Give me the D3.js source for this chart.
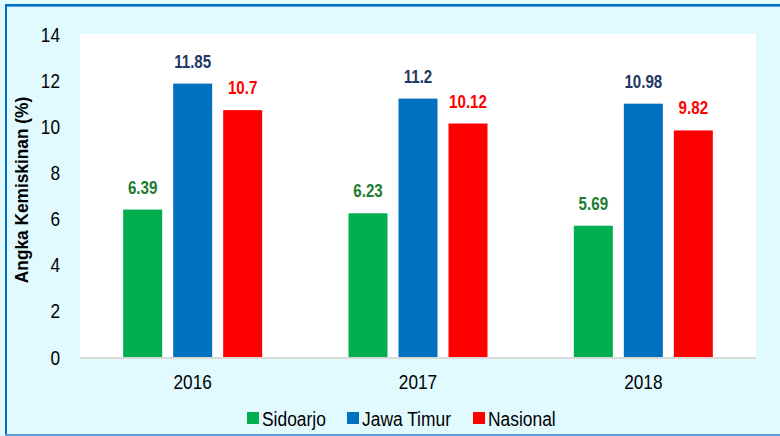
<!DOCTYPE html>
<html><head><meta charset="utf-8">
<script src="https://cdn.jsdelivr.net/npm/d3@7"></script>
<style>body{margin:0;background:#fff}svg{display:block}</style>
</head><body>
<svg id="c" width="780" height="436"></svg>
<script>
const years = ["2016","2017","2018"];
const seriesNames = ["Sidoarjo","Jawa Timur","Nasional"];
const sidoarjo = [6.39, 6.23, 5.69];
const jawaTimur = [11.85, 11.2, 10.98];
const nasional = [10.7, 10.12, 9.82];
const yTicks = [0,2,4,6,8,10,12,14];
const labelText = [["6.39","6.23","5.69"],["11.85","11.2","10.98"],["10.7","10.12","9.82"]];

const barColors = ["#00B050","#0070C0","#FF0000"];
const labelColors = ["#1E7B34","#1F3864","#FF0000"];
const seriesVals = [sidoarjo, jawaTimur, nasional];
const font = "'Liberation Sans',Arial,sans-serif";

function narrow(sel, f){
  sel.each(function(){
    const w = this.getComputedTextLength();
    d3.select(this).attr("textLength", w*f).attr("lengthAdjust","spacingAndGlyphs");
  });
}

const svg = d3.select("#c");
svg.append("rect").attr("x",0).attr("y",0).attr("width",780).attr("height",436).attr("fill","#E0FAFF");
// borders
svg.append("rect").attr("x",5).attr("y",4).attr("width",780).attr("height",2).attr("fill","#0070C0");
svg.append("rect").attr("x",5).attr("y",6).attr("width",780).attr("height",1).attr("fill","#4FA3E0");
svg.append("rect").attr("x",5).attr("y",4).attr("width",2).attr("height",432).attr("fill","#0070C0");
svg.append("rect").attr("x",5).attr("y",434).attr("width",780).attr("height",2).attr("fill","#5B9BD5");

const L=80,R=756,T=34,B=357;
svg.append("rect").attr("x",L).attr("y",T).attr("width",R-L).attr("height",B-T).attr("fill","#FFFFFF");

const x0 = d3.scaleBand().domain(years).range([L,R]).paddingInner(0).paddingOuter(0);
const y = d3.scaleLinear().domain([0,14]).range([B,T]);
const bw = 39, step = 50;

// baseline
svg.append("line").attr("x1",L).attr("x2",R).attr("y1",B+1).attr("y2",B+1).attr("stroke","#D9D9D9").attr("stroke-width",2);

// y axis
const ya = svg.append("g").attr("transform",`translate(${L},0)`)
  .call(d3.axisLeft(y).tickValues(yTicks).tickSize(0).tickPadding(20));
ya.select(".domain").remove();
ya.selectAll("text").attr("font-family",font).attr("font-size",20).attr("fill","#000").attr("dy","0.35em");
narrow(ya.selectAll("text"),0.86);

// x axis
const xa = svg.append("g").attr("transform",`translate(0,${B})`)
  .call(d3.axisBottom(x0).tickSize(0).tickPadding(18));
xa.select(".domain").remove();
xa.selectAll("text").attr("font-family",font).attr("font-size",20).attr("fill","#000");
narrow(xa.selectAll("text"),0.86);

// y title
const yt = svg.append("text").attr("transform","translate(28,190) rotate(-90)")
  .attr("text-anchor","middle").attr("font-family",font).attr("font-weight","bold")
  .attr("font-size",18).attr("fill","#000").text("Angka Kemiskinan (%)");
narrow(yt,0.96);

// bars
seriesVals.forEach((vals,si)=>{
  const g = svg.append("g");
  g.selectAll("rect").data(years).join("rect")
    .attr("x",(d)=>x0(d)+x0.bandwidth()/2 + (si-1)*step - bw/2)
    .attr("y",(d,i)=>y(vals[i]))
    .attr("width",bw)
    .attr("height",(d,i)=>B-y(vals[i]))
    .attr("fill",barColors[si]);
  const t = g.selectAll("text").data(years).join("text")
    .attr("x",(d)=>x0(d)+x0.bandwidth()/2 + (si-1)*step)
    .attr("y",(d,i)=>y(vals[i])-16)
    .attr("text-anchor","middle").attr("font-family",font).attr("font-weight","bold")
    .attr("font-size",18).attr("fill",labelColors[si])
    .text((d,i)=>labelText[si][i]);
  narrow(t,0.84);
});

// legend
const legX = [247,347,473];
seriesNames.forEach((n,i)=>{
  svg.append("rect").attr("x",legX[i]).attr("y",412).attr("width",12).attr("height",12).attr("fill",barColors[i]);
  const t = svg.append("text").attr("x",legX[i]+15).attr("y",426).attr("font-family",font)
    .attr("font-size",20).attr("fill","#000").text(n);
  narrow(t,0.87);
});
</script>
</body></html>
